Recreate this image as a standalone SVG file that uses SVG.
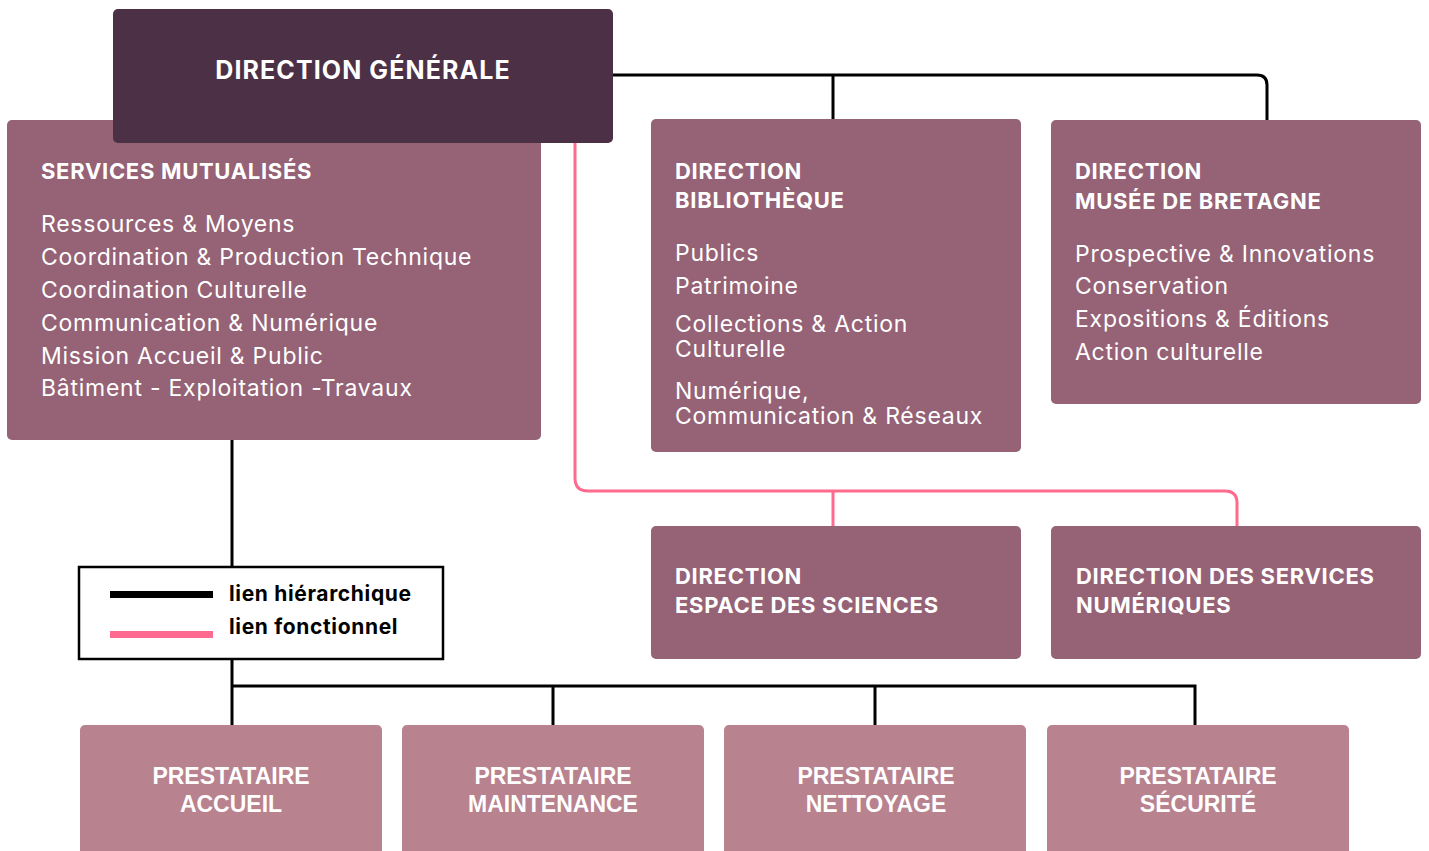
<svg xmlns="http://www.w3.org/2000/svg" width="1429" height="851" viewBox="0 0 1429 851">
<style>
.n{fill:#956276}
.p{fill:#B9828F}
.t{font-family:Inter,"Liberation Sans",sans-serif;fill:#fff}
.b{font-weight:700;font-size:22px;letter-spacing:0.7px}
.r{font-weight:400;font-size:23px;letter-spacing:0.75px}
.pr{font-family:"Liberation Sans",sans-serif;font-weight:700;font-size:23px;fill:#fff;text-anchor:middle}
.k{fill:none;stroke:#000;stroke-width:3}
.pk{fill:none;stroke:#FF6B8E;stroke-width:3}
.lg{font-family:Inter,"Liberation Sans",sans-serif;font-weight:700;font-size:21px;letter-spacing:0.65px;fill:#000}
</style>
<g id="connectors">
<path class="k" d="M613 75 H1257 Q1267 75 1267 85 V120"/>
<path class="k" d="M833 75 V119"/>
<path class="k" d="M232 440 V567 M232 660 V725 M232 686 H1195 V725 M553 686 V725 M875 686 V725"/>
<path class="pk" d="M575 143 V478 Q575 491 588 491 H1225 Q1237 491 1237 503 V526"/>
<path class="pk" d="M833 491 V526"/>
</g>
<g id="services-mutualises">
<rect class="n" x="7" y="120" width="534" height="320" rx="5"/>
<text class="t b" x="41" y="179">SERVICES MUTUALISÉS</text>
<text class="t r" x="41" y="232">Ressources &amp; Moyens</text>
<text class="t r" x="41" y="265">Coordination &amp; Production Technique</text>
<text class="t r" x="41" y="298">Coordination Culturelle</text>
<text class="t r" x="41" y="331">Communication &amp; Numérique</text>
<text class="t r" x="41" y="364">Mission Accueil &amp; Public</text>
<text class="t r" x="41" y="396">Bâtiment - Exploitation -Travaux</text>
</g>
<g id="direction-generale">
<rect x="113" y="9" width="500" height="134" rx="5" fill="#4B3046"/>
<text class="t" x="363" y="79" font-weight="700" font-size="25" letter-spacing="1.1" text-anchor="middle">DIRECTION GÉNÉRALE</text>
</g>
<g id="direction-bibliotheque">
<rect class="n" x="651" y="119" width="370" height="333" rx="5"/>
<text class="t b" x="675" y="179">DIRECTION</text>
<text class="t b" x="675" y="208">BIBLIOTHÈQUE</text>
<text class="t r" x="675" y="261">Publics</text>
<text class="t r" x="675" y="294">Patrimoine</text>
<text class="t r" x="675" y="332">Collections &amp; Action</text>
<text class="t r" x="675" y="357">Culturelle</text>
<text class="t r" x="675" y="399">Numérique,</text>
<text class="t r" x="675" y="424">Communication &amp; Réseaux</text>
</g>
<g id="direction-musee">
<rect class="n" x="1051" y="120" width="370" height="284" rx="5"/>
<text class="t b" x="1075" y="179">DIRECTION</text>
<text class="t b" x="1075" y="209">MUSÉE DE BRETAGNE</text>
<text class="t r" x="1075" y="262">Prospective &amp; Innovations</text>
<text class="t r" x="1075" y="294">Conservation</text>
<text class="t r" x="1075" y="327">Expositions &amp; Éditions</text>
<text class="t r" x="1075" y="360">Action culturelle</text>
</g>
<g id="direction-espace-sciences">
<rect class="n" x="651" y="526" width="370" height="133" rx="5"/>
<text class="t b" x="675" y="584">DIRECTION</text>
<text class="t b" x="675" y="613">ESPACE DES SCIENCES</text>
</g>
<g id="direction-services-numeriques">
<rect class="n" x="1051" y="526" width="370" height="133" rx="5"/>
<text class="t b" x="1076" y="584">DIRECTION DES SERVICES</text>
<text class="t b" x="1076" y="613">NUMÉRIQUES</text>
</g>
<g id="legende">
<rect x="79" y="567" width="364" height="92" fill="#fff" stroke="#000" stroke-width="2.5"/>
<rect x="110" y="591" width="103" height="7" fill="#000"/>
<rect x="110" y="631" width="103" height="7" fill="#FF6B8E"/>
<text class="lg" x="229" y="601">lien hiérarchique</text>
<text class="lg" x="229" y="634">lien fonctionnel</text>
</g>
<g id="prestataire-accueil">
<rect class="p" x="80" y="725" width="302" height="140" rx="5"/>
<text class="pr" x="231" y="784">PRESTATAIRE</text>
<text class="pr" x="231" y="812">ACCUEIL</text>
</g>
<g id="prestataire-maintenance">
<rect class="p" x="402" y="725" width="302" height="140" rx="5"/>
<text class="pr" x="553" y="784">PRESTATAIRE</text>
<text class="pr" x="553" y="812">MAINTENANCE</text>
</g>
<g id="prestataire-nettoyage">
<rect class="p" x="724" y="725" width="302" height="140" rx="5"/>
<text class="pr" x="876" y="784">PRESTATAIRE</text>
<text class="pr" x="876" y="812">NETTOYAGE</text>
</g>
<g id="prestataire-securite">
<rect class="p" x="1047" y="725" width="302" height="140" rx="5"/>
<text class="pr" x="1198" y="784">PRESTATAIRE</text>
<text class="pr" x="1198" y="812">SÉCURITÉ</text>
</g>
</svg>
